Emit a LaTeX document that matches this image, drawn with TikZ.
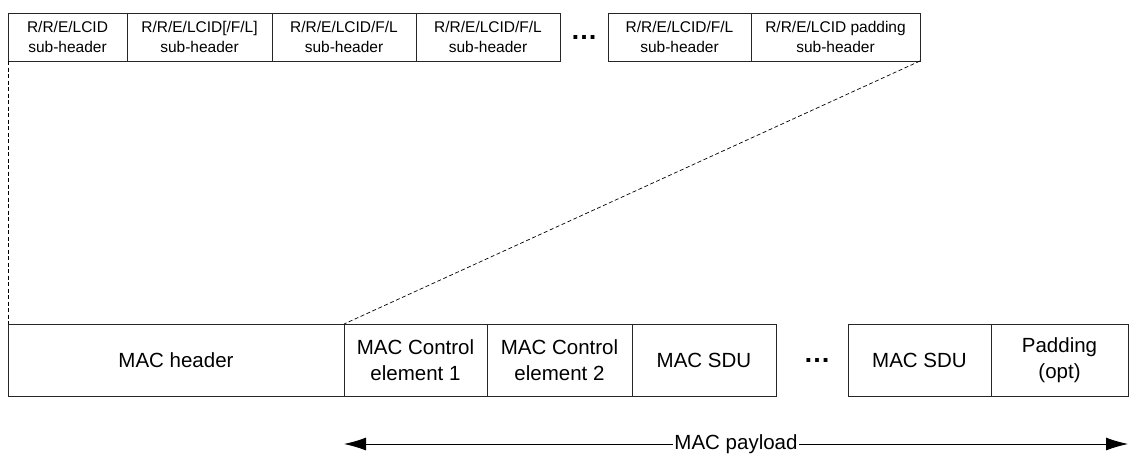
\documentclass[tikz,border=0pt]{standalone}
\usepackage{fontspec}
\setsansfont{Liberation Sans}
\usepackage{tikz}
\usetikzlibrary{arrows.meta, positioning}
\definecolor{boxline}{HTML}{262626}

\begin{document}
\begin{tikzpicture}[
    x=1pt, y=1pt,
    font=\sffamily,
    field/.style={draw=boxline, line width=0.9pt, inner sep=0pt, outer sep=0pt,
                  align=center, anchor=north west},
    subhdr/.style={field, minimum height=48pt, font=\sffamily\fontsize{15.5}{20}\selectfont},
    pdufield/.style={field, minimum height=72pt, font=\sffamily\fontsize{20.5}{26}\selectfont},
    gapdots/.style={font=\sffamily\bfseries\fontsize{27}{27}\selectfont, inner sep=0pt},
    zoomline/.style={line width=0.7pt, dash pattern=on 4pt off 2.5pt}
]
\useasboundingbox (0,0) rectangle (1129,-456);

% sub-header row
\node[subhdr, minimum width=119pt] (sh1) at (8,-13) {R/R/E/LCID\\sub-header};
\node[subhdr, minimum width=145pt, right=0pt of sh1] (sh2) {R/R/E/LCID[/F/L]\\sub-header};
\node[subhdr, minimum width=144pt, right=0pt of sh2] (sh3) {R/R/E/LCID/F/L\\sub-header};
\node[subhdr, minimum width=144pt, right=0pt of sh3] (sh4) {R/R/E/LCID/F/L\\sub-header};
\node[subhdr, minimum width=143pt, right=48pt of sh4] (sh5) {R/R/E/LCID/F/L\\sub-header};
\node[subhdr, minimum width=169pt, right=0pt of sh5] (sh6) {R/R/E/LCID padding\\sub-header};
\path (sh4.east) -- (sh5.west) node[midway, gapdots] (dtop) {\ldots};

% MAC PDU row
\node[pdufield, minimum width=336pt] (mh) at (8,-324) {MAC header};
\node[pdufield, minimum width=143pt, right=0pt of mh] (ce1) {MAC Control\\element 1};
\node[pdufield, minimum width=145pt, right=0pt of ce1] (ce2) {MAC Control\\element 2};
\node[pdufield, minimum width=144pt, right=0pt of ce2] (sdu1) {MAC SDU};
\node[pdufield, minimum width=143pt, right=72pt of sdu1] (sdu2) {MAC SDU};
\node[pdufield, minimum width=137pt, right=0pt of sdu2] (pad) {Padding\\(opt)};
\path (sdu1.east) -- (sdu2.west) node[midway, gapdots, xshift=5pt] (dbot) {\ldots};

% zoom lines from header to sub-headers
\draw[zoomline] (sh1.south west) -- (mh.north west);
\draw[zoomline] (sh6.south east) -- (ce1.north west);

% payload span
\coordinate[below=48pt of ce1.south west] (pl);
\coordinate[below=48pt of pad.south east] (pr);
\draw[line width=0.8pt, {Latex[length=22pt,width=13pt]}-{Latex[length=22pt,width=13pt]}]
    (pl) -- (pr) node[midway, fill=white, inner sep=1pt,
    font=\sffamily\fontsize{20.5}{24}\selectfont] {MAC payload};

\end{tikzpicture}
\end{document}
